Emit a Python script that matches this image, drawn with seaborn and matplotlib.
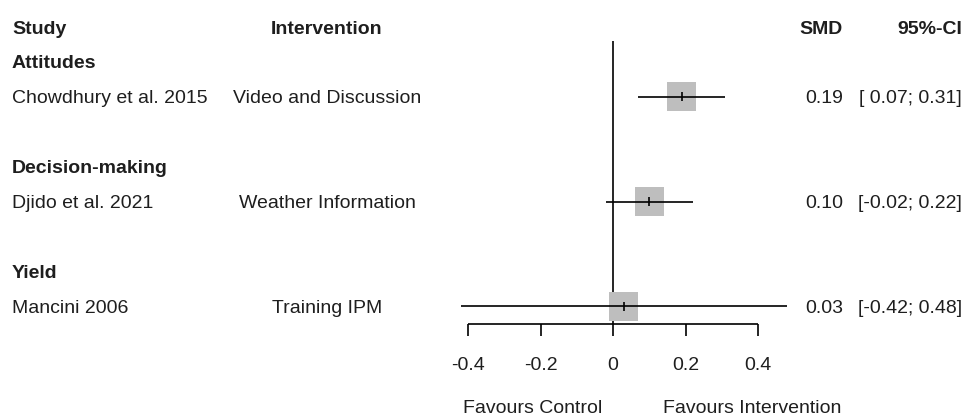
import matplotlib
matplotlib.use("Agg")
import matplotlib.pyplot as plt
import matplotlib.transforms as mtransforms
import seaborn as sns
import pandas as pd

# Study-level data
groups = ["Attitudes", "Decision-making", "Yield"]
studies = ["Chowdhury et al. 2015", "Djido et al. 2021", "Mancini 2006"]
interventions = ["Video and Discussion", "Weather Information", "Training IPM"]
smd = [0.19, 0.10, 0.03]
ci_low = [0.07, -0.02, -0.42]
ci_high = [0.31, 0.22, 0.48]
xticks = [-0.4, -0.2, 0, 0.2, 0.4]
xtick_labels = ["-0.4", "-0.2", "0", "0.2", "0.4"]

# Row layout (row 0 is the header line)
group_rows = [1, 4, 7]
study_rows = [2, 5, 8]

df = pd.DataFrame({
    "study": studies, "intervention": interventions, "smd": smd,
    "lo": ci_low, "hi": ci_high, "row": study_rows,
})

sns.set_theme(style="white")
plt.rcParams["font.family"] = ["Liberation Sans", "DejaVu Sans"]

W, H = 963, 417
fig = plt.figure(figsize=(W / 100, H / 100), dpi=100)
ax = fig.add_axes([0, 0, 1, 1])
ax.set_xlim(-613 / 362.5, (W - 613) / 362.5)
row_px = 34.9
ax.set_ylim((H - 27) / row_px, -27 / row_px)
ax.axis("off")

txt = "#1e1e1e"
fs = 14
va = "center_baseline"

# Study weight squares
sns.scatterplot(data=df, x="smd", y="row", marker="s", s=440, color="#bebebe",
                edgecolor="none", ax=ax, zorder=2, legend=False)
# Confidence intervals
ax.hlines(df["row"], df["lo"], df["hi"], color="black", lw=1.2, zorder=3)
# Point estimates
ax.vlines(df["smd"], df["row"] - 0.13, df["row"] + 0.13, color="black", lw=1.2, zorder=4)

# Line of no effect
ax.vlines(0, 0.4, 8.52, color="black", lw=1.2, zorder=1)

# x axis
axis_row = 8.52
ax.hlines(axis_row, xticks[0], xticks[-1], color="black", lw=1.2)
ax.vlines(xticks, axis_row, axis_row + 0.34, color="black", lw=1.2)
for t, lab in zip(xticks, xtick_labels):
    ax.text(t, 9.63, lab, ha="center", va=va, fontsize=fs, color=txt)
ax.text(-0.223, 10.86, "Favours Control", ha="center", va=va, fontsize=fs, color=txt)
ax.text(0.384, 10.86, "Favours Intervention", ha="center", va=va, fontsize=fs, color=txt)

# Text columns: x in figure fraction, y in rows
tr = mtransforms.blended_transform_factory(fig.transFigure, ax.transData)


def col(px):
    return px / W


ax.text(col(12), 0, "Study", transform=tr, ha="left", va=va,
        fontsize=fs, fontweight="bold", color=txt)
ax.text(col(327), 0, "Intervention", transform=tr, ha="center", va=va,
        fontsize=fs, fontweight="bold", color=txt)
ax.text(col(843), 0, "SMD", transform=tr, ha="right", va=va,
        fontsize=fs, fontweight="bold", color=txt)
ax.text(col(962), 0, "95%-CI", transform=tr, ha="right", va=va,
        fontsize=fs, fontweight="bold", color=txt)

for g, r in zip(groups, group_rows):
    ax.text(col(12), r, g, transform=tr, ha="left", va=va,
            fontsize=fs, fontweight="bold", color=txt)

for _, d in df.iterrows():
    r = d["row"]
    ax.text(col(12), r, d["study"], transform=tr, ha="left", va=va,
            fontsize=fs, color=txt)
    ax.text(col(327), r, d["intervention"], transform=tr, ha="center", va=va,
            fontsize=fs, color=txt)
    ax.text(col(843), r, f"{d['smd']:.2f}", transform=tr, ha="right", va=va,
            fontsize=fs, color=txt)
    lo = f"{d['lo']:.2f}" if d["lo"] < 0 else f" {d['lo']:.2f}"
    ax.text(col(962), r, f"[{lo}; {d['hi']:.2f}]", transform=tr, ha="right",
            va=va, fontsize=fs, color=txt)

fig.savefig("out.png", dpi=100, facecolor="white")
